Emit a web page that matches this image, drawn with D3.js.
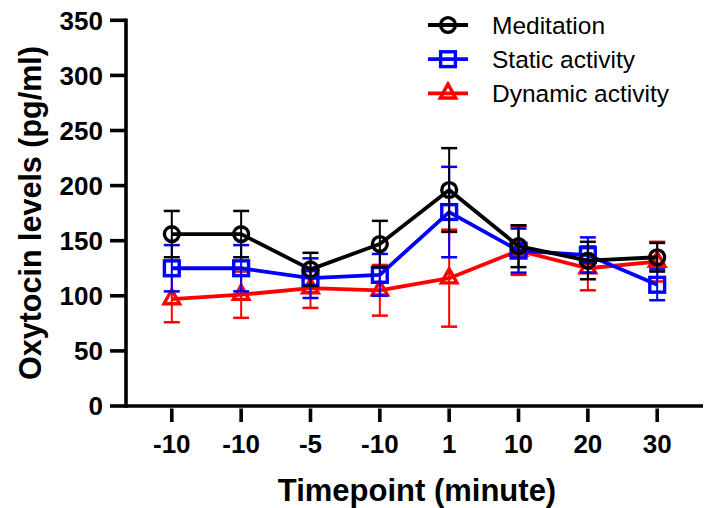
<!DOCTYPE html>
<html>
<head>
<meta charset="utf-8">
<script src="https://cdn.jsdelivr.net/npm/d3@7"></script>
<style>
html,body{margin:0;padding:0;background:#fff;}
svg{display:block;}
</style>
</head>
<body>
<svg id="chart" width="704" height="508"></svg>
<script>
const timepoints = ["-10", "-10", "-5", "-10", "1", "10", "20", "30"];
const yTicks = [0, 50, 100, 150, 200, 250, 300, 350];

const meditationMean = [156, 156, 124, 147, 196, 145, 132, 135];
const meditationErr  = [21, 21, 15, 21, 38, 19, 17, 13];
const staticMean     = [125, 125, 116, 119, 176, 141, 137, 110];
const staticErr      = [21, 21, 18, 19, 41, 20, 16, 14];
const dynamicMean    = [97, 101, 107, 105, 116, 141, 125, 131];
const dynamicErr     = [21, 21, 18, 23, 44, 22, 20, 18];

const seriesNames = ["Meditation", "Static activity", "Dynamic activity"];

const series = [
  {name: seriesNames[2], mean: dynamicMean, err: dynamicErr, color: "#ff0000", shape: "triangle"},
  {name: seriesNames[1], mean: staticMean, err: staticErr, color: "#0000ff", shape: "square"},
  {name: seriesNames[0], mean: meditationMean, err: meditationErr, color: "#000000", shape: "circle"}
];

const svg = d3.select("#chart");
const font = "'Liberation Sans', Arial, sans-serif";

const axisLeft = 126, axisBottom = 406, axisTop = 20.3, axisRight = 703;
const y = d3.scaleLinear().domain([0, 350]).range([axisBottom, axisTop]);
const x = d3.scalePoint().domain(d3.range(timepoints.length)).range([171.8, 657.2]);

// axes lines
const ax = svg.append("g");
ax.append("line").attr("x1", axisLeft).attr("x2", axisLeft).attr("y1", axisTop - 1.75).attr("y2", axisBottom + 1.75)
  .attr("stroke", "#000").attr("stroke-width", 3.6);
ax.append("line").attr("x1", axisLeft - 1.75).attr("x2", axisRight).attr("y1", axisBottom).attr("y2", axisBottom)
  .attr("stroke", "#000").attr("stroke-width", 3.6);

// y ticks
const yt = ax.selectAll(".yt").data(yTicks).enter().append("g");
yt.append("line").attr("x1", 110).attr("x2", axisLeft).attr("y1", d => y(d)).attr("y2", d => y(d))
  .attr("stroke", "#000").attr("stroke-width", 3.6);
yt.append("text").attr("x", 103).attr("y", d => y(d)).attr("dy", "0.36em")
  .attr("text-anchor", "end").attr("font-family", font).attr("font-weight", "bold")
  .attr("font-size", 26).text(d => d);

// x ticks
const xt = ax.selectAll(".xt").data(d3.range(timepoints.length)).enter().append("g");
xt.append("line").attr("x1", d => x(d)).attr("x2", d => x(d)).attr("y1", 408.5).attr("y2", 422)
  .attr("stroke", "#000").attr("stroke-width", 3.6);
xt.append("text").attr("x", d => x(d)).attr("y", 453)
  .attr("text-anchor", "middle").attr("font-family", font).attr("font-weight", "bold")
  .attr("font-size", 26).text(d => timepoints[d]);

// axis titles
svg.append("text").attr("x", 417).attr("y", 501).attr("text-anchor", "middle")
  .attr("font-family", font).attr("font-weight", "bold").attr("font-size", 31)
  .text("Timepoint (minute)");
svg.append("text").attr("transform", "translate(41,213) rotate(-90)").attr("text-anchor", "middle")
  .attr("font-family", font).attr("font-weight", "bold").attr("font-size", 30.5)
  .text("Oxytocin levels (pg/ml)");

function drawMarker(g, shape, cx, cy, color) {
  if (shape === "circle") {
    g.append("circle").attr("cx", cx).attr("cy", cy).attr("r", 7.4)
      .attr("fill", "none").attr("stroke", color).attr("stroke-width", 3.4);
  } else if (shape === "square") {
    g.append("rect").attr("x", cx - 7.4).attr("y", cy - 7.4).attr("width", 14.8).attr("height", 14.8)
      .attr("fill", "none").attr("stroke", color).attr("stroke-width", 3.4);
  } else {
    const h = 14, w = 15.5;
    const pts = [[cx, cy - h * 2 / 3], [cx + w / 2, cy + h / 3], [cx - w / 2, cy + h / 3]];
    g.append("polygon").attr("points", pts.map(p => p.join(",")).join(" "))
      .attr("fill", "none").attr("stroke", color).attr("stroke-width", 3.4).attr("stroke-linejoin", "miter");
  }
}

const line = d3.line().x((d, i) => x(i)).y(d => y(d));

series.forEach(s => {
  const g = svg.append("g");
  // error bars
  s.mean.forEach((m, i) => {
    const cx = x(i), top = y(m + s.err[i]), bot = y(m - s.err[i]);
    g.append("line").attr("x1", cx).attr("x2", cx).attr("y1", top).attr("y2", bot)
      .attr("stroke", s.color).attr("stroke-width", 2);
    [top, bot].forEach(yy => {
      g.append("line").attr("x1", cx - 8).attr("x2", cx + 8).attr("y1", yy).attr("y2", yy)
        .attr("stroke", s.color).attr("stroke-width", 2.5);
    });
  });
  g.append("path").datum(s.mean).attr("d", line).attr("fill", "none")
    .attr("stroke", s.color).attr("stroke-width", 3.8).attr("stroke-linejoin", "round");
  s.mean.forEach((m, i) => drawMarker(g, s.shape, x(i), y(m), s.color));
});

// legend
const legendOrder = [series[2], series[1], series[0]];
const lg = svg.append("g");
legendOrder.forEach((s, i) => {
  const ly = 25 + i * 34.2;
  lg.append("line").attr("x1", 428).attr("x2", 468).attr("y1", ly).attr("y2", ly)
    .attr("stroke", s.color).attr("stroke-width", 3.8);
  drawMarker(lg, s.shape, 448, ly, s.color);
  lg.append("text").attr("x", 492).attr("y", ly).attr("dy", "0.36em")
    .attr("font-family", font).attr("font-size", 24.5).text(s.name);
});
</script>
</body>
</html>
